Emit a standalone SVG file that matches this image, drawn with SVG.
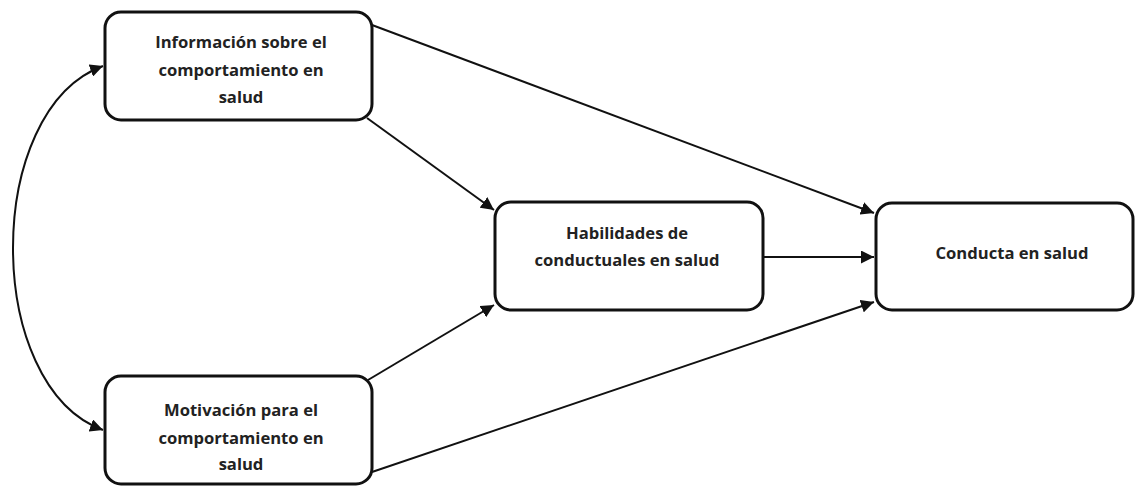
<svg xmlns="http://www.w3.org/2000/svg" width="1135" height="486" viewBox="0 0 1135 486">
<defs>
<marker id="ah" viewBox="0 0 10 10" refX="10" refY="5" markerWidth="6.5" markerHeight="6.5" markerUnits="strokeWidth" orient="auto-start-reverse">
<path d="M0,0 L10,5 L0,10 z" fill="#111"/>
</marker>
<style>
.box{fill:#fff;stroke:#111;stroke-width:3}
.lbl{font-family:"Open Sans","Liberation Sans",sans-serif;font-weight:bold;font-size:16.6px;fill:#222;text-anchor:middle}
.con{fill:none;stroke:#111;stroke-width:2;marker-end:url(#ah)}
</style>
</defs>
<rect width="1135" height="486" fill="#fff"/>
<g id="connectors">
<path class="con" d="M372,25 L874,213"/>
<path class="con" d="M367,118 L494,210"/>
<path class="con" d="M368,380 L494,305"/>
<path class="con" d="M372,472 L874,302"/>
<path class="con" d="M763,257 L874,257"/>
<path class="con" d="M103,66 C-17,110 -17,386 103,430" style="marker-start:url(#ah)"/>
</g>
<g id="n1">
<rect class="box" x="105" y="12" width="267" height="108" rx="16"/>
<text class="lbl" x="241" y="48">Información sobre el</text>
<text class="lbl" x="241" y="76">comportamiento en</text>
<text class="lbl" x="241" y="103">salud</text>
</g>
<g id="n2">
<rect class="box" x="495" y="202" width="268" height="108" rx="16"/>
<text class="lbl" x="627" y="239">Habilidades de</text>
<text class="lbl" x="627" y="266">conductuales en salud</text>
</g>
<g id="n3">
<rect class="box" x="876" y="203" width="257" height="107" rx="16"/>
<text class="lbl" x="1012" y="259">Conducta en salud</text>
</g>
<g id="n4">
<rect class="box" x="105" y="376" width="267" height="108" rx="16"/>
<text class="lbl" x="241" y="416">Motivación para el</text>
<text class="lbl" x="241" y="444">comportamiento en</text>
<text class="lbl" x="241" y="470">salud</text>
</g>
</svg>
